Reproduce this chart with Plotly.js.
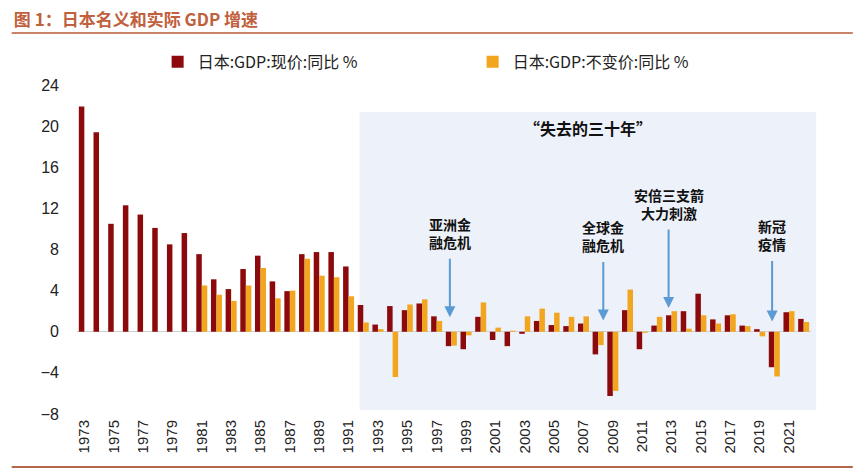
<!DOCTYPE html>
<html>
<head>
<meta charset="utf-8">
<script src="https://cdn.plot.ly/plotly-3.0.1.min.js"></script>
<style>
  body { margin: 0; background: #fff; }
  #chart { width: 865px; height: 475px; }
</style>
</head>
<body>
<div id="chart"></div>
<script>
// 1973 .. 2022
const years = [];
for (let y = 1973; y <= 2022; y++) years.push(y);

// 日本:GDP:现价:同比 %
const nominal = [
    21.9, 19.4, 10.5, 12.3, 11.4, 10.1, 8.5, 9.6,
    7.55, 5.1, 4.15, 6.1, 7.4, 4.9, 3.95, 7.55, 7.75, 7.75,
    6.35, 2.6, 0.7, 2.5, 2.1, 2.75, 1.5, -1.4, -1.7, 1.45,
    -0.8, -1.4, -0.2, 1.05, 0.65, 0.55, 0.8, -2.2, -6.25, 2.1,
    -1.7, 0.6, 1.6, 2.0, 3.7, 1.2, 1.6, 0.6, 0.25, -3.45,
    1.9, 1.25
];

// 日本:GDP:不变价:同比 %
const real = [
    null, null, null, null, null, null, null, null,
    4.5, 3.6, 3.0, 4.5, 6.2, 3.25, 4.0, 7.1, 5.45, 5.3,
    3.45, 0.9, 0.25, -4.4, 2.65, 3.15, 1.05, -1.35, -0.35, 2.85,
    0.4, 0.1, 1.5, 2.25, 1.85, 1.45, 1.5, -1.3, -5.75, 4.1,
    -0.1, 1.45, 2.0, 0.3, 1.6, 0.8, 1.7, 0.55, -0.45, -4.35,
    2.0, 0.95
];

const seriesNames = ["日本:GDP:现价:同比 %", "日本:GDP:不变价:同比 %"];
const tickYears = years.filter(y => y % 2 === 1);
const yTicks = [-8, -4, 0, 4, 8, 12, 16, 20, 24];

// events: [year, value the arrow points at, label]
const events = [
    [1997.9, 1.4, "亚洲金<br>融危机"],
    [2008.35, 1.1, "全球金<br>融危机"],
    [2012.8, 2.3, "安倍三支箭<br>大力刺激"],
    [2019.85, 1.0, "新冠<br>疫情"]
];
const eventOffsets = [-84, -84, -104, -86];

const red = "#8c0a0c";
const gold = "#f2a51f";
const cjk = "'Noto Sans CJK SC', 'Liberation Sans', sans-serif";

const traces = [
    {x: years, y: nominal, name: seriesNames[0], type: "bar", marker: {color: red}},
    {x: years, y: real, name: seriesNames[1], type: "bar", marker: {color: gold}}
];

const annotations = events.map((e, i) => ({
    x: e[0], y: e[1], xref: "x", yref: "y",
    text: e[2],
    showarrow: true, ax: 0, ay: eventOffsets[i],
    arrowhead: 2, arrowsize: 1.1, arrowwidth: 2, arrowcolor: "#5b9bd5",
    borderpad: 6,
    font: {family: cjk, size: 14, color: "#111", weight: 700}
}));
annotations.push({
    x: 2007.3, y: 19.8, xref: "x", yref: "y",
    text: "“失去的三十年”", showarrow: false,
    font: {family: cjk, size: 16, color: "#111", weight: 700}
});

const layout = {
    width: 865, height: 475,
    margin: {l: 77, r: 54, t: 85, b: 61},
    paper_bgcolor: "#fff", plot_bgcolor: "rgba(0,0,0,0)",
    font: {family: "'Liberation Sans', Arial, sans-serif", size: 15, color: "#222"},
    title: {
        text: "图 1：日本名义和实际 GDP 增速",
        xref: "container", yref: "container", x: 0.016, xanchor: "left", y: 0.957, yanchor: "middle",
        font: {family: cjk, size: 17, color: "#c0603c", weight: 700}
    },
    barmode: "group", bargap: 0.25, bargroupgap: 0,
    showlegend: true,
    legend: {
        orientation: "h", x: 0.539, xanchor: "center", y: 1.07, yanchor: "middle",
        font: {family: cjk, size: 16, color: "#222"},
        entrywidth: 270, itemwidth: 30, traceorder: "normal"
    },
    xaxis: {
        range: [1972.5, 2022.5], tickvals: tickYears, ticktext: tickYears.map(String),
        tickangle: -90, ticks: "", showgrid: false, zeroline: false, showline: false,
        tickfont: {size: 15}, ticklabelstandoff: 2, fixedrange: true
    },
    xaxis2: {
        overlaying: "x", anchor: "free", position: 0.25,
        range: [1972.5, 2022.5],
        tickvals: tickYears.map(y => y - 0.5), ticks: "outside", ticklen: 4, tickcolor: "#d0d0d0",
        showticklabels: false, showgrid: false, zeroline: false, showline: false
    },
    yaxis: {
        range: [-8, 24], tickvals: yTicks, ticks: "", showgrid: false,
        zeroline: true, zerolinecolor: "#d0d0d0", zerolinewidth: 1,
        tickfont: {size: 16}, ticklabelstandoff: 17, fixedrange: true
    },
    shapes: [
        // "lost thirty years" panel
        {type: "rect", xref: "paper", yref: "paper", x0: 0.385, x1: 1.007, y0: 0.012, y1: 0.918,
         fillcolor: "#edf1f9", line: {width: 0}, layer: "below"},
        // header rule
        {type: "line", xref: "paper", yref: "paper", x0: -0.089, x1: 1.057, y0: 1.158, y1: 1.158,
         line: {color: "#c98467", width: 2}},
        // footer rule
        {type: "line", xref: "paper", yref: "paper", x0: -0.089, x1: 1.057, y0: -0.161, y1: -0.161,
         line: {color: "#b5674a", width: 2}}
    ],
    annotations: annotations
};

Plotly.newPlot("chart", traces, layout, {displayModeBar: false, staticPlot: true});
</script>
</body>
</html>
